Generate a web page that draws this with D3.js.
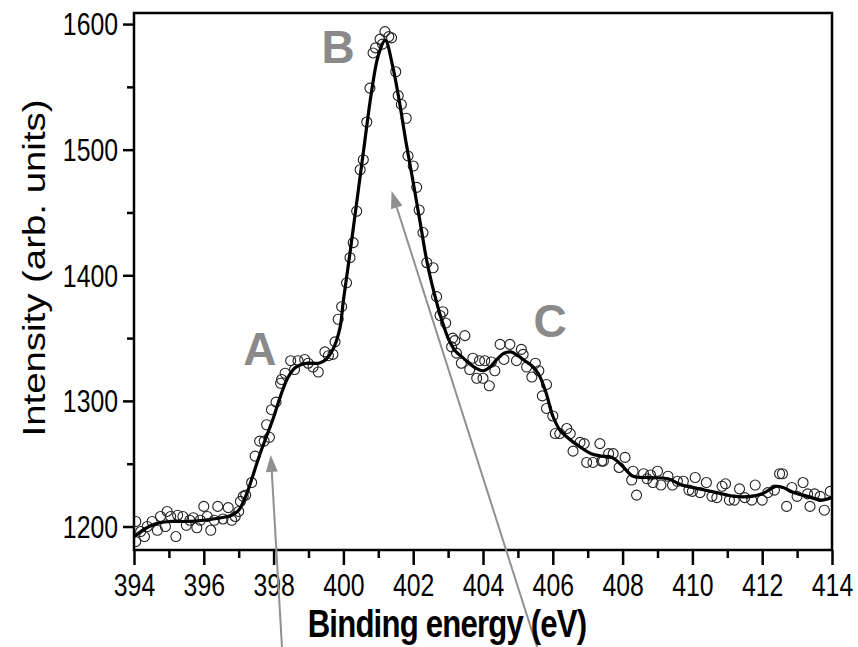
<!DOCTYPE html>
<html>
<head>
<meta charset="utf-8">
<script src="https://cdn.jsdelivr.net/npm/d3@7"></script>
<style>
  body { margin: 0; background: #fff; }
  svg { display: block; font-family: "Liberation Sans", Arial, sans-serif; }
  .axis text { font-size: 31px; fill: #000; }
</style>
</head>
<body>
<svg id="chart" width="858" height="647"></svg>
<script>
// measured spectrum (binding energy, counts)
const pointsX = [394.05,394.05,394.19,394.30,394.38,394.52,394.67,394.76,394.90,394.95,
  395.05,395.20,395.25,395.40,395.50,395.60,395.70,395.80,395.90,396.00,
  396.10,396.20,396.30,396.40,396.55,396.70,396.80,396.90,397.00,397.05,
  397.13,397.20,397.37,397.47,397.60,397.73,397.80,397.88,397.94,398.07,
  398.20,398.23,398.33,398.49,398.60,398.70,398.89,398.99,399.13,399.28,
  399.47,399.57,399.70,399.76,399.85,399.95,400.09,400.19,400.28,400.38,
  400.48,400.57,400.67,400.76,400.85,400.92,401.05,401.12,401.19,401.30,
  401.38,401.50,401.57,401.66,401.80,401.85,402.00,402.10,402.17,402.28,
  402.39,402.57,402.67,402.77,402.85,402.93,403.10,403.13,403.19,403.24,
  403.38,403.48,403.62,403.71,403.82,403.90,404.00,404.05,404.18,404.24,
  404.34,404.49,404.60,404.77,404.96,405.10,405.15,405.25,405.40,405.50,
  405.60,405.70,405.82,405.82,406.00,406.07,406.20,406.40,406.50,406.58,
  406.78,406.90,406.97,407.15,407.35,407.40,407.45,407.60,407.73,407.90,
  408.07,408.26,408.30,408.40,408.60,408.70,408.80,408.87,409.00,409.10,
  409.30,409.43,409.57,409.74,409.90,410.00,410.08,410.22,410.40,410.56,
  410.70,410.85,410.95,411.06,411.20,411.35,411.50,411.70,411.80,412.00,
  412.16,412.35,412.50,412.58,412.70,412.85,413.00,413.17,413.30,413.37,
  413.50,413.66,413.78,413.95];
const pointsY = [1204,1188,1196,1192,1200,1204,1197,1208,1200,1212,
  1208,1192,1209,1208,1201,1205,1207,1199,1205,1216,
  1208,1197,1205,1216,1206,1215,1205,1208,1212,1220,
  1224,1225,1235,1256,1268,1268,1281,1271,1293,1299,
  1314,1317,1322,1332,1325,1332,1333,1330,1327,1323,
  1339,1336,1337,1347,1365,1375,1394,1414,1426,1451,
  1484,1492,1522,1549,1577,1581,1588,1584,1594,1590,
  1589,1562,1543,1536,1525,1495,1487,1470,1452,1434,
  1410,1406,1383,1368,1371,1362,1343,1350,1348,1338,
  1330,1352,1325,1334,1318,1332,1318,1332,1312,1331,
  1324,1345,1333,1345,1332,1341,1337,1327,1319,1330,
  1324,1304,1313,1294,1288,1274,1274,1278,1274,1260,
  1267,1266,1251,1251,1266,1252,1252,1258,1258,1247,
  1255,1237,1244,1225,1242,1238,1241,1235,1244,1233,
  1240,1233,1236,1236,1229,1228,1239,1227,1235,1224,
  1223,1232,1234,1221,1221,1230,1223,1221,1233,1221,
  1227,1229,1242,1242,1216,1231,1224,1235,1226,1216,
  1226,1224,1213,1228];

// smoothed fit
const fitX = [394.0,394.3,394.6,395.0,395.5,396.0,396.5,396.8,397.0,397.2,397.4,397.6,397.8,
  398.0,398.2,398.4,398.6,398.8,399.0,399.3,399.5,399.7,399.9,400.0,400.2,400.4,400.6,400.8,
  401.0,401.2,401.4,401.6,401.8,402.0,402.2,402.4,402.6,402.8,403.0,403.2,403.4,403.6,403.8,
  404.0,404.2,404.4,404.6,404.8,405.0,405.2,405.4,405.6,405.8,406.0,406.2,406.5,406.8,407.1,
  407.4,407.7,408.0,408.3,408.8,409.3,409.7,410.2,410.7,411.2,411.7,412.0,412.4,412.6,412.9,
  413.3,413.7,414.0];
const fitY = [1192,1198,1202,1204,1204,1205,1207,1209,1213,1224,1240,1257,1272,
  1287,1304,1318,1326,1329,1330,1330,1333,1341,1358,1380,1420,1462,1504,1545,
  1575,1587,1568,1539,1505,1474,1442,1410,1386,1366,1350,1340,1335,1330,1326,
  1324,1327,1333,1338,1339,1336,1332,1328,1321,1307,1288,1277,1269,1263,1258,
  1256,1255,1248,1240,1239,1238,1233,1230,1227,1224,1224,1226,1232,1231,1227,
  1224,1221,1223];

const xTicks = [394,396,398,400,402,404,406,408,410,412,414];
const xMinor = [395,397,399,401,403,405,407,409,411,413];
const yTicks = [1200,1300,1400,1500,1600];
const yMinor = [1250,1350,1450,1550];

// peak labels and arrows (data units)
const peakNames = ['A','B','C'];
const peakAt = [[397.61,1328.5],[399.85,1569],[405.92,1351]];
const arrowFrom = [[398.24,1104],[405.55,1104]];
const arrowTo = [[397.92,1257],[401.38,1467]];

const margin = {top: 13, left: 134},
      width = 698, height = 537;

const svg = d3.select('#chart');
const g = svg.append('g')
  .attr('transform', `translate(${margin.left}, ${margin.top})`);

const x = d3.scaleLinear().domain([394, 414]).range([0, width]);
const y = d3.scaleLinear().domain([1181.3, 1608.8]).range([height, 0]);

svg.append('defs').append('clipPath').attr('id', 'clip')
  .append('rect').attr('width', width).attr('height', height);

// axes
const xAxis = g.append('g')
  .attr('class', 'axis')
  .attr('transform', `translate(0, ${height})`)
  .call(d3.axisBottom(x).tickValues(xTicks).tickFormat(d3.format('d')).tickSize(15));
xAxis.selectAll('text').attr('y', 24).attr('dy', '0.71em').attr('transform', 'scale(0.8,1)');

g.append('g')
  .attr('transform', `translate(0, ${height})`)
  .call(d3.axisBottom(x).tickValues(xMinor).tickFormat('').tickSize(8));

const yAxis = g.append('g')
  .attr('class', 'axis')
  .call(d3.axisLeft(y).tickValues(yTicks).tickFormat(d3.format('d')).tickSize(11));
yAxis.selectAll('text').attr('x', -20).attr('dy', '0.35em').attr('transform', 'scale(0.8,1)');

g.append('g')
  .call(d3.axisLeft(y).tickValues(yMinor).tickFormat('').tickSize(7));

g.selectAll('.domain').remove();
g.selectAll('.tick line').attr('stroke', '#000').attr('stroke-width', 2.5);

// frame
g.append('rect')
  .attr('width', width)
  .attr('height', height)
  .attr('fill', 'none')
  .attr('stroke', '#000')
  .attr('stroke-width', 2.5);

// data points
const dataArea = g.append('g').attr('clip-path', 'url(#clip)');

dataArea.selectAll('circle')
  .data(pointsX)
  .enter().append('circle')
    .attr('cx', d => x(d))
    .attr('cy', (d, i) => y(pointsY[i]))
    .attr('r', 5)
    .attr('fill', 'none')
    .attr('stroke', '#222')
    .attr('stroke-width', 1.1);

// fit curve
const line = d3.line()
  .x(d => x(d[0]))
  .y(d => y(d[1]))
  .curve(d3.curveCatmullRom.alpha(0.5));

dataArea.append('path')
  .datum(fitX.map((d, i) => [d, fitY[i]]))
  .attr('d', line)
  .attr('fill', 'none')
  .attr('stroke', '#000')
  .attr('stroke-width', 3.2);

// peak letters
g.selectAll('.peak')
  .data(peakNames)
  .enter().append('text')
    .attr('class', 'peak')
    .attr('x', (d, i) => x(peakAt[i][0]))
    .attr('y', (d, i) => y(peakAt[i][1]))
    .attr('text-anchor', 'middle')
    .style('font-size', '46px')
    .style('font-weight', 'bold')
    .attr('fill', '#8a8a8a')
    .text(d => d);

// arrows
arrowTo.forEach((tip, i) => {
  const x0 = x(arrowFrom[i][0]), y0 = y(arrowFrom[i][1]);
  const x1 = x(tip[0]), y1 = y(tip[1]);
  const ang = Math.atan2(y1 - y0, x1 - x0);
  const len = 17, half = 6;
  const bx = x1 - len * Math.cos(ang), by = y1 - len * Math.sin(ang);
  g.append('line')
    .attr('x1', x0).attr('y1', y0)
    .attr('x2', bx).attr('y2', by)
    .attr('stroke', '#909090')
    .attr('stroke-width', 2);
  g.append('path')
    .attr('d', `M${x1},${y1}L${bx + half * Math.sin(ang)},${by - half * Math.cos(ang)}L${bx - half * Math.sin(ang)},${by + half * Math.cos(ang)}Z`)
    .attr('fill', '#909090');
});

// axis titles
svg.append('text')
  .attr('transform', 'translate(447, 637) scale(0.82,1)')
  .attr('text-anchor', 'middle')
  .style('font-size', '38px')
  .style('font-weight', 'bold')
  .style('letter-spacing', '-1px')
  .text('Binding energy (eV)');

svg.append('text')
  .attr('transform', 'translate(45, 268) rotate(-90) scale(1.2,1)')
  .attr('text-anchor', 'middle')
  .style('font-size', '32px')
  .text('Intensity (arb. units)');
</script>
</body>
</html>
